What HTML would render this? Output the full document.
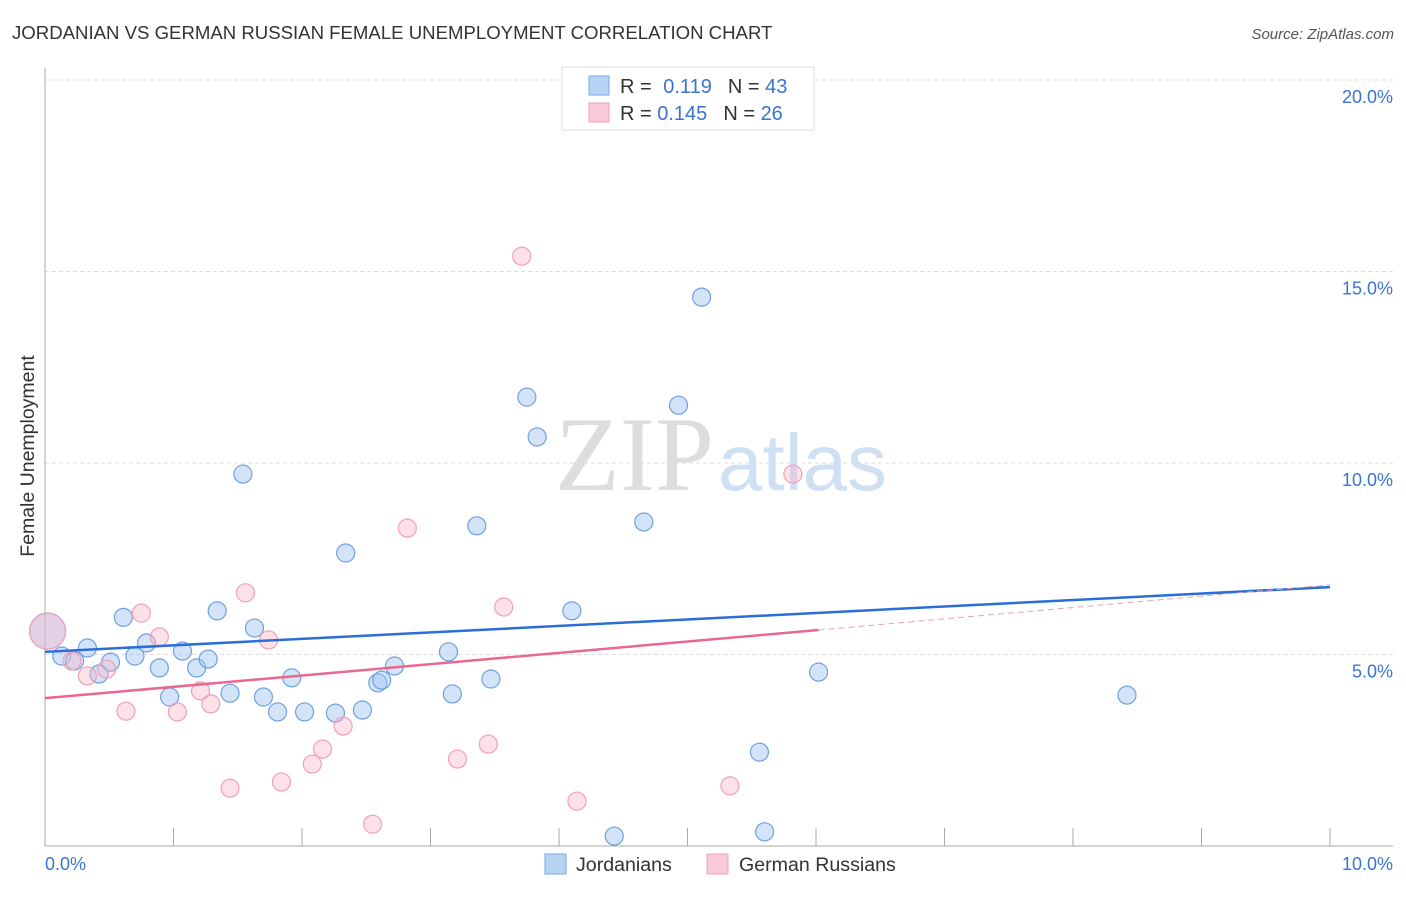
<!DOCTYPE html>
<html><head><meta charset="utf-8"><style>
body{margin:0;background:#fff;font-family:"Liberation Sans",sans-serif;}
svg text{font-family:"Liberation Sans",sans-serif;}
</style></head><body>
<svg width="1406" height="892" xmlns="http://www.w3.org/2000/svg" id="chart">
<text x="12" y="39" font-size="18.6" fill="#333">JORDANIAN VS GERMAN RUSSIAN FEMALE UNEMPLOYMENT CORRELATION CHART</text>
<text x="1394" y="39" font-size="15" fill="#555" font-style="italic" text-anchor="end">Source: ZipAtlas.com</text>
<text x="714" y="490" font-size="106" fill="#ddd" text-anchor="end" style="font-family:'Liberation Serif',serif">ZIP</text>
<text x="718" y="490" font-size="80" fill="#cfe0f5">atlas</text>
<g id="grid"></g>
<g id="axes"></g>
<g id="marks"></g>
<text transform="translate(34,456) rotate(-90)" font-size="19.5" fill="#333" text-anchor="middle">Female Unemployment</text>
<g>
<rect x="562" y="67" width="252" height="63" fill="#fff" stroke="#ddd"/>
<rect x="589" y="76" width="20" height="19" fill="#b8d4f5" stroke="#7aa8e6"/>
<rect x="589" y="103" width="20" height="19" fill="#f9cad8" stroke="#f0a0b8"/>
<text x="620" y="93" font-size="20" fill="#333">R = <tspan fill="#3a74d0" dx="6">0.119</tspan><tspan dx="16" fill="#333">N = </tspan><tspan fill="#3a74d0">43</tspan></text>
<text x="620" y="120" font-size="20" fill="#333">R = <tspan fill="#3a74d0">0.145</tspan><tspan dx="16" fill="#333">N = </tspan><tspan fill="#3a74d0">26</tspan></text>
</g>
<g>
<rect x="545" y="854" width="21" height="20" fill="#b8d4f5" stroke="#7aa8e6"/>
<text x="576" y="871" font-size="19.6" fill="#333">Jordanians</text>
<rect x="707" y="854" width="21" height="20" fill="#f9cad8" stroke="#f0a0b8"/>
<text x="739" y="871" font-size="19.6" fill="#333">German Russians</text>
</g>
</svg>
<script>
const blueX=[0.02,0.13,0.23,0.33,0.42,0.51,0.61,0.70,0.79,0.89,0.97,1.07,1.18,1.27,1.34,1.44,1.54,1.63,1.70,1.81,1.92,2.02,2.26,2.34,2.47,2.59,2.62,2.72,3.14,3.17,3.36,3.47,3.75,3.83,4.10,4.43,4.66,4.93,5.11,5.56,5.60,6.02,8.42];
const blueY=[5.61,4.96,4.83,5.17,4.49,4.80,5.97,4.96,5.30,4.65,3.89,5.09,4.65,4.88,6.14,3.99,9.71,5.69,3.89,3.50,4.39,3.50,3.47,7.65,3.55,4.26,4.33,4.70,5.07,3.97,8.36,4.36,11.72,10.68,6.14,0.26,8.46,11.51,14.33,2.45,0.37,4.54,3.94];
const pinkX=[0.02,0.21,0.33,0.48,0.63,0.75,0.89,1.03,1.21,1.29,1.44,1.56,1.74,1.84,2.08,2.16,2.32,2.55,2.82,3.21,3.45,3.57,3.71,4.14,5.33,5.82];
const pinkY=[5.61,4.83,4.44,4.62,3.52,6.08,5.46,3.50,4.05,3.71,1.51,6.61,5.38,1.67,2.14,2.53,3.13,0.57,8.30,2.27,2.66,6.24,15.40,1.17,1.57,9.71];
const yTicks=[5,10,15,20];
const yTickLabels=["5.0%","10.0%","15.0%","20.0%"];
const xTicks=[0,1,2,3,4,5,6,7,8,9,10];
const blueTrend=[5.07,6.76];
const pinkTrend=[3.86,5.64,6.82];
const pinkSolidEnd=6.02;

const NS="http://www.w3.org/2000/svg";
const X=v=>45+v*128.5, Y=v=>846-v*38.3;
function mk(tag,attrs,parent){const e=document.createElementNS(NS,tag);for(const k in attrs)e.setAttribute(k,attrs[k]);parent.appendChild(e);return e;}
const grid=document.getElementById('grid'),axes=document.getElementById('axes'),marks=document.getElementById('marks');
yTicks.forEach((t,i)=>{
 const l=mk('line',{x1:45,x2:1393,y1:Y(t),y2:Y(t),stroke:'#ddd','stroke-dasharray':'4,3'},grid);
 
 
 const tx=mk('text',{x:1393,y:Y(t)+23,'font-size':18,fill:'#3a74d0','text-anchor':'end'},grid);
 tx.textContent=yTickLabels[i];
 
 
});
mk('line',{x1:45,x2:45,y1:68,y2:846,stroke:'#aaa'},axes);
mk('line',{x1:45,x2:1393,y1:846,y2:846,stroke:'#aaa'},axes);
xTicks.forEach(t=>{
 const l=mk('line',{x1:X(t),x2:X(t),y1:828,y2:846,stroke:'#aaa'},axes);
 
 
});
const x0=mk('text',{x:45,y:870,'font-size':18,fill:'#3a74d0'},axes);x0.textContent='0.0%';


const x1=mk('text',{x:1393,y:870,'font-size':18,fill:'#3a74d0','text-anchor':'end'},axes);x1.textContent='10.0%';



function pts(xs,ys,fill,stroke,name){
 xs.forEach((x,i)=>{
  const c=mk('circle',{cx:X(x),cy:Y(ys[i]),r:i===0?18:9,fill:fill,stroke:stroke,'stroke-width':1.2},marks);
  
  
 });
}
pts(blueX,blueY,'rgba(160,196,240,0.45)','#6fa0e0','point-jordanian');
pts(pinkX,pinkY,'rgba(248,180,200,0.4)','#f0a0b8','point-german-russian');

const bt=mk('line',{x1:X(0),y1:Y(blueTrend[0]),x2:X(10),y2:Y(blueTrend[1]),stroke:'#2a6fd6','stroke-width':2.5},marks);


const pt=mk('line',{x1:X(0),y1:Y(pinkTrend[0]),x2:X(pinkSolidEnd),y2:Y(pinkTrend[1]),stroke:'#e8688f','stroke-width':2.5},marks);


const pd=mk('line',{x1:X(pinkSolidEnd),y1:Y(pinkTrend[1]),x2:X(10),y2:Y(pinkTrend[2]),stroke:'#e8a0b5','stroke-width':1,'stroke-dasharray':'6,4'},marks);


</script>
</body></html>
